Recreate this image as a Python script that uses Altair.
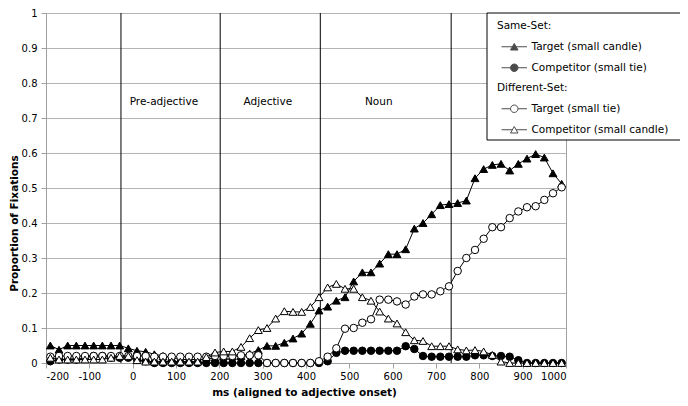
import altair as alt
import pandas as pd

# ---------------- data ----------------
ms = [-190, -170, -150, -130, -110, -90, -70, -50, -30, -10,
      10, 30, 50, 70, 90, 110, 130, 150, 170, 190,
      210, 230, 250, 270, 290, 310, 330, 350, 370, 390,
      410, 430, 450, 470, 490, 510, 530, 550, 570, 590,
      610, 630, 650, 670, 690, 710, 730, 750, 770, 790,
      810, 830, 850, 870, 890, 910, 930, 950, 970, 990]

same_target = [0.050, 0.038, 0.050, 0.050, 0.050, 0.050, 0.050, 0.050, 0.050, 0.042,
               0.035, 0.032, 0.025, 0.020, 0.015, 0.010, 0.010, 0.010, 0.010, 0.015,
               0.020, 0.020, 0.020, 0.027, 0.037, 0.049, 0.049, 0.058, 0.070, 0.084,
               0.112, 0.150, 0.161, 0.178, 0.188, 0.233, 0.259, 0.259, 0.284, 0.311,
               0.311, 0.325, 0.384, 0.400, 0.425, 0.451, 0.454, 0.457, 0.464, 0.528,
               0.554, 0.566, 0.569, 0.550, 0.569, 0.584, 0.597, 0.587, 0.542, 0.512]

same_competitor = [0.005, 0.010, 0.010, 0.010, 0.015, 0.020, 0.020, 0.015, 0.015, 0.015,
                   0.010, 0.005, 0.000, 0.000, 0.000, 0.000, 0.000, 0.000, 0.000, 0.000,
                   0.000, 0.000, 0.000, 0.000, 0.000, 0.000, 0.000, 0.000, 0.000, 0.000,
                   0.000, 0.000, 0.005, 0.029, 0.035, 0.035, 0.035, 0.035, 0.035, 0.035,
                   0.035, 0.048, 0.040, 0.020, 0.018, 0.018, 0.018, 0.018, 0.018, 0.022,
                   0.022, 0.020, 0.020, 0.018, 0.008, 0.000, 0.000, 0.000, 0.000, 0.000]

diff_target = [0.018, 0.020, 0.020, 0.020, 0.020, 0.020, 0.020, 0.020, 0.020, 0.020,
               0.020, 0.020, 0.018, 0.018, 0.018, 0.018, 0.018, 0.018, 0.018, 0.020,
               0.020, 0.020, 0.022, 0.022, 0.022, 0.000, 0.000, 0.000, 0.000, 0.000,
               0.000, 0.005, 0.018, 0.042, 0.098, 0.100, 0.115, 0.125, 0.181, 0.181,
               0.176, 0.167, 0.190, 0.196, 0.196, 0.205, 0.219, 0.263, 0.300, 0.323,
               0.355, 0.388, 0.388, 0.414, 0.433, 0.445, 0.448, 0.466, 0.485, 0.502]

diff_competitor = [0.015, 0.010, 0.010, 0.010, 0.010, 0.010, 0.010, 0.015, 0.020, 0.020,
                   0.008, 0.004, 0.004, 0.004, 0.004, 0.004, 0.004, 0.004, 0.017, 0.030,
                   0.033, 0.033, 0.046, 0.071, 0.094, 0.100, 0.127, 0.148, 0.146, 0.146,
                   0.160, 0.188, 0.216, 0.226, 0.212, 0.212, 0.188, 0.178, 0.147, 0.127,
                   0.113, 0.088, 0.065, 0.063, 0.048, 0.048, 0.048, 0.039, 0.036, 0.037,
                   0.033, 0.023, 0.004, 0.000, 0.000, 0.000, 0.000, 0.000, 0.000, 0.000]

series_names = ["Target (small candle)", "Competitor (small tie)",
                "Target (small tie)", "Competitor (small candle)"]
series_groups = ["Same-Set:", "Same-Set:", "Different-Set:", "Different-Set:"]
series_values = [same_target, same_competitor, diff_target, diff_competitor]

phase_bounds = [-27, 202, 433, 735]
phase_names = ["Pre-adjective", "Adjective", "Noun"]
phase_label_ms = [72, 312, 568]
phase_label_y = 0.745

x_ticks = [-200, -100, 0, 100, 200, 300, 400, 500, 600, 700, 800, 900, 1000]
y_ticks = [0, 0.1, 0.2, 0.3, 0.4, 0.5, 0.6, 0.7, 0.8, 0.9, 1.0]

# ---------------- styling ----------------
FONT = "DejaVu Sans"
marker_shape = ["triangle-up", "circle", "circle", "triangle-up"]
marker_fill = ["black", "black", "white", "white"]
marker_size = [62, 56, 56, 62]

TRI = "M-3.4,0H-0.5M0.5,0H3.4M0,-0.87L1,0.87L-1,0.87Z"
CIRC = "M-3.4,0H-1M1,0H3.4M1,0A1,1,0,1,1,-1,0A1,1,0,1,1,1,0Z"

rows = []
for name, grp, vals in zip(series_names, series_groups, series_values):
    for m, v in zip(ms, vals):
        rows.append({"series": name, "group": grp, "ms": m, "value": v})
df = pd.DataFrame(rows)

x_enc = alt.X(
    "ms:Q",
    scale=alt.Scale(domain=[-200, 1000], nice=False, zero=False),
    axis=alt.Axis(values=x_ticks, labelExpr="toString(datum.value)", grid=False,
                  tickSize=5, labelPadding=3, titleFontWeight="bold", titleFontSize=10.5,
                  titleX=258, titleY=29, titleBaseline="middle"),
    title="ms (aligned to adjective onset)",
)
y_enc = alt.Y(
    "value:Q",
    scale=alt.Scale(domain=[0, 1], nice=False, zero=False),
    axis=alt.Axis(values=y_ticks, labelExpr="toString(round(datum.value*10)/10)",
                  grid=True, tickSize=5, labelPadding=4, titleFontWeight="bold",
                  titleFontSize=10.5, titleAngle=270, titleX=-32, titleY=210,
                  titleAlign="center", titleBaseline="middle"),
    title="Proportion of Fixations",
)

layers = []

# vertical phase boundaries
rule_df = pd.DataFrame({"ms": phase_bounds, "value": [0] * len(phase_bounds),
                        "value2": [1] * len(phase_bounds)})
layers.append(alt.Chart(rule_df).mark_rule(color="black", strokeWidth=1)
              .encode(x=x_enc, y=y_enc, y2="value2:Q"))

# phase labels
text_df = pd.DataFrame({"ms": phase_label_ms, "value": [phase_label_y] * 3,
                        "label": phase_names})
layers.append(alt.Chart(text_df).mark_text(font=FONT, fontSize=10.5, color="black",
                                           align="center", baseline="middle")
              .encode(x=x_enc, y=y_enc, text="label:N"))

# series: line then markers, series by series
for name, shp, fil, sz in zip(series_names, marker_shape, marker_fill, marker_size):
    base = alt.Chart(df).transform_filter(alt.datum.series == name)
    layers.append(base.mark_line(color="black", strokeWidth=1).encode(x=x_enc, y=y_enc))
    layers.append(base.mark_point(shape=shp, filled=True, fill=fil, stroke="black",
                                  strokeWidth=1, size=sz, opacity=1)
                  .encode(x=x_enc, y=y_enc))

# legend frame
layers.append(alt.Chart(pd.DataFrame({"a": [0]})).mark_rect(fill="white", stroke="black",
                                                             strokeWidth=1)
              .encode(x=alt.value(441), x2=alt.value(640), y=alt.value(0), y2=alt.value(127)))

# legends (drawn by the library from hidden, clipped points)
def legend_layer(group, fill, legend_y):
    names = [n for n, g in zip(series_names, series_groups) if g == group]
    paths = [TRI if n.endswith("candle)") else CIRC for n in names]
    return (alt.Chart(df)
            .transform_filter(alt.datum.group == group)
            .transform_filter(alt.datum.ms == ms[0])
            .transform_calculate(value="-1")
            .mark_point(filled=False, color="black", fill=fill, stroke="black",
                        strokeWidth=1, clip=True)
            .encode(x=x_enc, y=y_enc,
                    shape=alt.Shape("series:N",
                                    scale=alt.Scale(domain=names, range=paths),
                                    legend=alt.Legend(
                                        title=group, orient="none", legendX=451,
                                        legendY=legend_y, padding=0,
                                        titleFont=FONT, titleFontSize=10.5,
                                        titleFontWeight="normal", titleColor="black",
                                        labelFont=FONT, labelFontSize=10.5,
                                        labelColor="black", symbolSize=56,
                                        symbolStrokeWidth=1,
                                        symbolOffset=12, labelOffset=12,
                                        rowPadding=9, titlePadding=10))))

layers.append(legend_layer("Same-Set:", "black", 8))
layers.append(legend_layer("Different-Set:", "white", 70))

chart = (alt.layer(*layers)
         .resolve_scale(shape="independent")
         .properties(width=520, height=350,
                     autosize=alt.AutoSizeParams(type="none"),
                     padding={"left": 38, "top": 5, "right": 114, "bottom": 35})
         .configure_view(stroke="#a0a0a0", strokeWidth=1)
         .configure_axis(labelFont=FONT, labelFontSize=10, labelColor="black",
                         titleFont=FONT, titleColor="black",
                         domainColor="#a0a0a0", tickColor="#a0a0a0",
                         gridColor="#b4b4b4", gridWidth=1))

chart.save("out.html", embed_options={"renderer": "svg", "actions": False})
